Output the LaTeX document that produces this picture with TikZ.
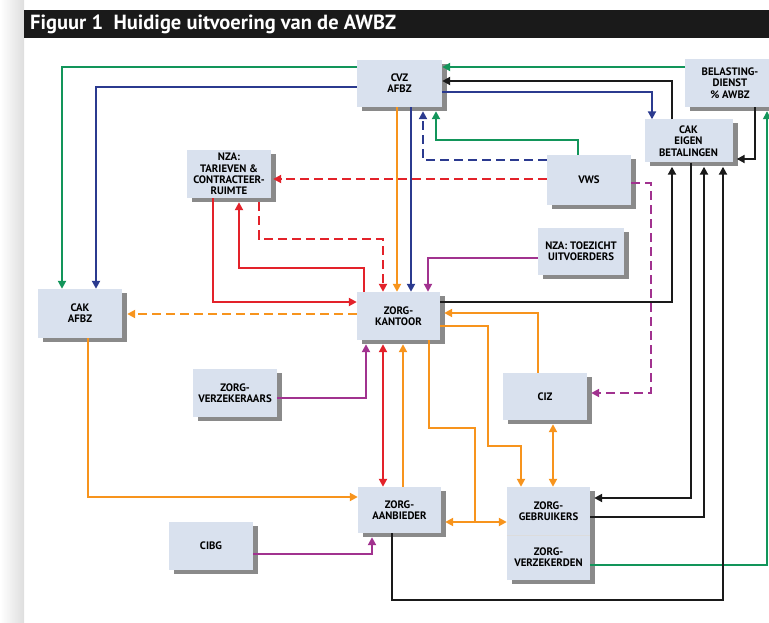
\documentclass[tikz,border=0pt]{standalone}
\usepackage{fontspec}
\setmainfont{PT Sans}
\usetikzlibrary{arrows.meta,shadows}
\definecolor{grn}{HTML}{12955A}
\definecolor{blu}{HTML}{2B3A8F}
\definecolor{org}{HTML}{F7941D}
\definecolor{rd}{HTML}{E3222A}
\definecolor{pur}{HTML}{A1328F}
\definecolor{blk}{HTML}{1A1A1A}
\definecolor{boxfill}{HTML}{D9E1EE}
\definecolor{shgray}{HTML}{8A8A8A}
\tikzset{
  box/.style={fill=boxfill, inner sep=0pt, align=center,
    font=\fontsize{10.8}{11.3}\selectfont\bfseries,
    drop shadow={shadow xshift=5pt,shadow yshift=-4pt,fill=shgray,opacity=1}},
  ln/.style={line width=2.1pt},
  tip/.style={-{Triangle[length=8pt,width=8pt]}},
  both/.style={{Triangle[length=8pt,width=8pt]}-{Triangle[length=8pt,width=8pt]}},
  sh/.style={shorten >=4pt},
  shs/.style={shorten <=4pt},
  dsh/.style={dash pattern=on 9pt off 5pt},
}
\begin{document}
\begin{tikzpicture}[x=1pt,y=-1pt]
\useasboundingbox (0,0) rectangle (769,623);
\shade[left color=white,right color=black!13] (0,0) rectangle (24,623);
\fill[blk] (24,10) rectangle (769,38);
\node[anchor=west,text=white,font=\fontsize{20.5}{22}\selectfont\bfseries,inner sep=0pt] (title) at (30,24) {Figuur 1\ \ Huidige uitvoering van de AWBZ};

% nodes
\node[box,minimum width=85pt,minimum height=47pt] (cvz) at (399.5,83.5) {CVZ\\AFBZ};
\node[box,minimum width=90pt,minimum height=48pt] (bel) at (730,83) {BELASTING-\\DIENST\\\% AWBZ};
\node[box,minimum width=88pt,minimum height=43pt] (cake) at (688.5,141) {CAK\\EIGEN\\BETALINGEN};
\node[box,minimum width=84pt,minimum height=48pt] (nzat) at (229,174) {NZA:\\TARIEVEN \&\\CONTRACTEER-\\RUIMTE};
\node[box,minimum width=84pt,minimum height=50pt] (vws) at (589,180) {VWS};
\node[box,minimum width=86pt,minimum height=47pt] (nzau) at (581,251.5) {NZA: TOEZICHT\\UITVOERDERS};
\node[box,minimum width=84pt,minimum height=49pt] (caka) at (80,313.5) {CAK\\AFBZ};
\node[box,minimum width=83pt,minimum height=48pt] (zk) at (398.5,316) {ZORG-\\KANTOOR};
\node[box,minimum width=84pt,minimum height=48pt] (zv) at (235,393) {ZORG-\\VERZEKERAARS};
\node[box,minimum width=84pt,minimum height=47pt] (ciz) at (545,396.5) {CIZ};
\node[box,minimum width=83pt,minimum height=46pt] (za) at (399.5,510) {ZORG-\\AANBIEDER};
\node[box,minimum width=84pt,minimum height=48pt] (cibg) at (211,546) {CIBG};
\node[box,minimum width=83pt,minimum height=48pt] (zg) at (548.5,511) {ZORG-\\GEBRUIKERS};
\node[box,minimum width=83pt,minimum height=45pt] (zvd) at (548.5,557.5) {ZORG-\\VERZEKERDEN};
\draw[line width=0.6pt,white!70!shgray] (zg.south west) -- (zg.south east);

% connectors
\draw[ln,grn,tip] (cvz.west |- 0,67) -| (caka.north -| 62,0);
\draw[ln,blu,tip] (cvz.west |- 0,87) -| (caka.north -| 96,0);
\draw[ln,grn,tip] (bel.west |- 0,67) -- (cvz.east |- 0,67);
\draw[ln,blk,tip] (cake.north -| 672,0) |- (cvz.east |- 0,81);
\draw[ln,blu,tip] (cvz.east |- 0,92) -| (cake.north -| 652,0);
\draw[ln,blk,tip,sh] (bel.south -| 755,0) |- (cake.east |- 0,159);
\draw[line width=1.4pt,grn,tip,sh] (zvd.east |- 0,565) -| (bel.south -| 767,0);
\draw[ln,grn,tip,sh] (vws.north -| 578,0) |- (436,140) -- (cvz.south -| 436,0);
\draw[ln,blu,dsh,tip,sh] (vws.west |- 0,160) -| (cvz.south -| 423,0);
\draw[ln,org,tip] (cvz.south -| 397,0) -- (zk.north -| 397,0);
\draw[ln,blu,tip] (cvz.south -| 411,0) -- (zk.north -| 411,0);
\draw[ln,rd,dsh,tip,shorten >=2pt] (vws.west |- 0,179) -- (nzat.east |- 0,179);
\draw[ln,rd,dsh,tip,shs] (nzat.south -| 259,0) |- (383,239) -- (zk.north -| 383,0);
\draw[ln,rd,tip,sh] (zk.north -| 364,0) |- (239,268) -- (nzat.south -| 239,0);
\draw[ln,rd,tip] (nzat.south -| 213,0) |- (zk.west |- 0,302);
\draw[ln,org,dsh,tip,shorten >=5pt] (zk.west |- 0,314) -- (caka.east |- 0,314);
\draw[ln,pur,tip] (nzau.west |- 0,258) -| (zk.north -| 428,0);
\draw[ln,blk,tip,sh] (zk.east |- 0,302) -| (cake.south -| 672,0);
\draw[ln,blk,tip,sh] (cake.south -| 691,0) |- (zg.east |- 0,498);
\draw[ln,blk,tip,sh] (zg.east |- 0,517) -| (cake.south -| 704,0);
\draw[ln,blk,tip,sh] (za.south -| 392,0) |- (723,600) -- (cake.south -| 723,0);
\draw[ln,pur,dsh,tip,sh] (vws.east |- 0,183) -| (651,393) -- (ciz.east |- 0,393);
\draw[ln,pur,tip,sh] (zv.east |- 0,398) -| (zk.south -| 366,0);
\draw[ln,rd,both,shs] (zk.south -| 383,0) -- (za.north -| 383,0);
\draw[ln,org,tip,sh] (za.north -| 403,0) -- (zk.south -| 403,0);
\draw[ln,org,tip,sh] (ciz.north -| 538,0) |- (zk.east |- 0,313);
\draw[ln,org,tip] (zk.east |- 0,326) -| (488,446) -| (zg.north -| 521,0);
\coordinate (j) at (475,522);
\draw[ln,org] (zk.south -| 429,0) |- (475,428) -- (j);
\draw[ln,org,tip,sh] (j) -- (za.east |- j);
\draw[ln,org,tip] (j) -- (zg.west |- j);
\draw[ln,org,both,shs] (ciz.south -| 553,0) -- (zg.north -| 553,0);
\draw[ln,org,tip] (caka.south -| 88,0) |- (za.west |- 0,497);
\draw[ln,pur,tip,sh] (cibg.east |- 0,554) -| (za.south -| 372,0);
\end{tikzpicture}
\end{document}
